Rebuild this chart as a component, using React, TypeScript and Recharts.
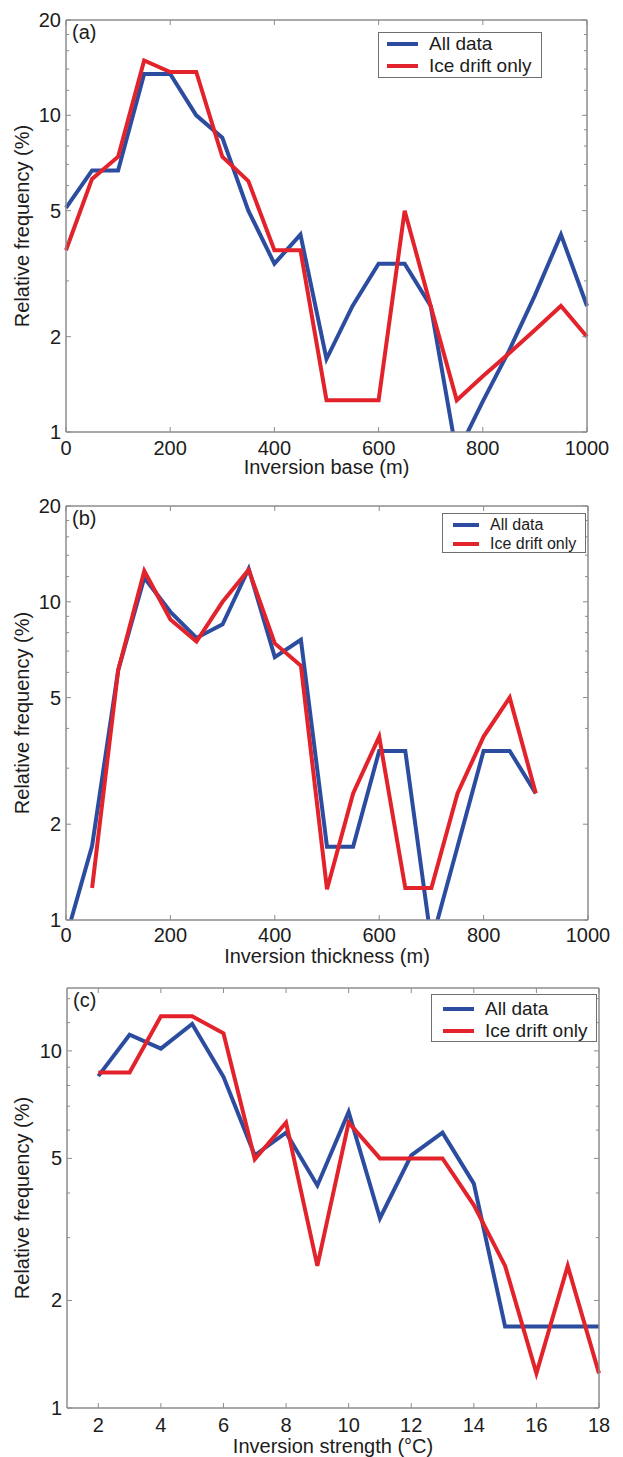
import { LineChart, Line, XAxis, YAxis, Legend } from "recharts";

// panel (a): inversion base
const baseX = [0, 50, 100, 150, 200, 250, 300, 350, 400, 450, 500, 550, 600, 650, 700, 750, 800, 850, 900, 950, 1000];
const baseAll = [5.1, 6.7, 6.7, 13.5, 13.5, 10, 8.5, 5.0, 3.4, 4.2, 1.7, 2.5, 3.4, 3.4, 2.5, 0.85, 1.25, 1.8, 2.7, 4.2, 2.5];
const baseIce = [3.75, 6.3, 7.4, 14.9, 13.7, 13.7, 7.4, 6.2, 3.75, 3.75, 1.26, 1.26, 1.26, 5.0, 2.5, 1.26, 1.5, 1.77, 2.1, 2.5, 2.0];

// panel (b): inversion thickness
const thickX = [0, 50, 100, 150, 200, 250, 300, 350, 400, 450, 500, 550, 600, 650, 700, 750, 800, 850, 900];
const thickAll = [0.88, 1.71, 6.1, 11.9, 9.3, 7.7, 8.5, 12.7, 6.7, 7.6, 1.7, 1.7, 3.4, 3.4, 0.85, 1.7, 3.4, 3.4, 2.5];
const thickIce = [null, 1.26, 6.1, 12.5, 8.8, 7.5, 10, 12.6, 7.4, 6.3, 1.25, 2.5, 3.77, 1.26, 1.26, 2.5, 3.77, 5.0, 2.5];

// panel (c): inversion strength
const strengthX = [2, 3, 4, 5, 6, 7, 8, 9, 10, 11, 12, 13, 14, 15, 16, 17, 18];
const strengthAll = [8.5, 11.1, 10.15, 11.9, 8.46, 5.1, 5.9, 4.2, 6.75, 3.4, 5.1, 5.9, 4.25, 1.69, 1.69, 1.69, 1.69];
const strengthIce = [8.7, 8.7, 12.5, 12.5, 11.2, 4.97, 6.3, 2.5, 6.3, 5.0, 5.0, 5.0, 3.7, 2.5, 1.25, 2.5, 1.25];

const seriesNames = ["All data", "Ice drift only"];
const seriesColors = ["#2c4d9f", "#e3232b"];

const mTicks = [0, 200, 400, 600, 800, 1000];
const cTicks = [2, 4, 6, 8, 10, 12, 14, 16, 18];
const yTicksAB = [1, 2, 3, 4, 5, 6, 7, 8, 9, 10, 12, 14, 16, 18, 20];
const yTicksC = [1, 2, 3, 4, 5, 6, 7, 8, 9, 10, 12, 14];
const yLabelsAB = [1, 2, 5, 10, 20];
const yLabelsC = [1, 2, 5, 10];

const gray = "#8c8c8c";
const ink = "#1c1c1c";
const fs = 20;

function rows(xs: number[], all: (number | null)[], ice: (number | null)[]) {
  return xs.map((x, i) => ({ x, all: all[i], ice: ice[i] }));
}

function LegendBox({ w, h, fontSize, lineLeft, lineW, textLeft, rowY }: any) {
  return (
    <div style={{ position: "relative", width: w, height: h, border: "1px solid #6f6f6f", background: "#fff", boxSizing: "border-box" }}>
      {seriesNames.map((n, i) => (
        <div key={n}>
          <div style={{ position: "absolute", left: lineLeft, top: rowY[i] - 2, width: lineW, height: 4, background: seriesColors[i] }} />
          <div style={{ position: "absolute", left: textLeft, top: rowY[i] - fontSize * 0.6, fontSize, lineHeight: `${fontSize * 1.2}px`, color: ink, whiteSpace: "nowrap" }}>{n}</div>
        </div>
      ))}
    </div>
  );
}

function Panel(p: any) {
  const plotW = p.width - p.left - p.right;
  const plotH = p.height - p.top - p.bottom;

  const xTick = (props: any) => {
    const { x, y, payload } = props;
    return (
      <g>
        <line x1={x} y1={y} x2={x} y2={y - 5} stroke={gray} />
        <line x1={x} y1={y - plotH} x2={x} y2={y - plotH + 5} stroke={gray} />
        <text x={x} y={y + p.tickDy} textAnchor="middle" dominantBaseline="central" fontSize={fs} fill={ink}>{payload.value}</text>
      </g>
    );
  };

  const yTick = (props: any) => {
    const { x, y, payload } = props;
    const major = p.yLabels.includes(payload.value);
    const len = major ? 5 : 3;
    return (
      <g>
        <line x1={x} y1={y} x2={x + len} y2={y} stroke={gray} />
        <line x1={x + plotW} y1={y} x2={x + plotW - len} y2={y} stroke={gray} />
        {major && (
          <text x={x - 5} y={y} textAnchor="end" dominantBaseline="central" fontSize={fs} fill={ink}>{payload.value}</text>
        )}
      </g>
    );
  };

  return (
    <div style={{ position: "absolute", left: 0, top: p.y }}>
      <LineChart width={p.width} height={p.height} data={p.data}
        margin={{ top: p.top - 1, right: p.right - 1, bottom: p.bottom - 1, left: 0 }}>
        <XAxis dataKey="x" type="number" domain={p.xDomain} ticks={p.xTicks} interval={0}
          height={1} tickSize={0} tickMargin={0} tickLine={false} tick={xTick}
          axisLine={{ stroke: gray, strokeWidth: 1.5 }}
          label={{ value: p.xTitle, position: "bottom", offset: p.xTitleOffset - 1, fontSize: fs, fill: ink }} />
        <XAxis xAxisId="top" dataKey="x" orientation="top" type="number" domain={p.xDomain} height={1}
          tick={false} tickLine={false} axisLine={{ stroke: gray, strokeWidth: 1.5 }}
          label={{ value: p.letter, position: "insideTopLeft", offset: 6, fontSize: fs, fill: ink }} />
        <YAxis type="number" scale="log" domain={p.yDomain} ticks={p.yTicks} interval={0}
          allowDataOverflow width={p.left} tickSize={0} tickMargin={0} tickLine={false} tick={yTick}
          axisLine={{ stroke: gray, strokeWidth: 1.5 }}
          label={{ value: "Relative frequency (%)", angle: -90, position: "insideLeft", offset: 22, fontSize: fs, fill: ink, style: { textAnchor: "middle" } }} />
        <YAxis yAxisId="right" orientation="right" type="number" scale="log" domain={p.yDomain}
          allowDataOverflow width={1} tick={false} tickLine={false} axisLine={{ stroke: gray, strokeWidth: 1.5 }} />
        <Legend layout="horizontal" verticalAlign="middle" align="center"
          wrapperStyle={{ left: p.legend.x, top: p.legend.y, width: p.legend.w, height: p.legend.h }}
          content={() => <LegendBox {...p.legend} />} />
        <Line dataKey="all" name={seriesNames[0]} type="linear" stroke={seriesColors[0]} strokeWidth={4} dot={false} isAnimationActive={false} />
        <Line dataKey="ice" name={seriesNames[1]} type="linear" stroke={seriesColors[1]} strokeWidth={4} dot={false} isAnimationActive={false} />
      </LineChart>
    </div>
  );
}

export default function App() {
  return (
    <div style={{ position: "absolute", left: 0, top: 0, width: 623, height: 1457, background: "#fff", fontFamily: '"Liberation Sans", Arial, Helvetica, sans-serif', overflow: "hidden" }}>
      <Panel y={0} width={623} height={480} top={20} bottom={48} left={66} right={36}
        data={rows(baseX, baseAll, baseIce)} xDomain={[0, 1000]} xTicks={mTicks}
        yDomain={[1, 20]} yTicks={yTicksAB} yLabels={yLabelsAB} tickDy={16}
        xTitle="Inversion base (m)" xTitleOffset={28} letter="(a)"
        legend={{ x: 378, y: 32, w: 164, h: 46, fontSize: 19, lineLeft: 8, lineW: 31, textLeft: 50, rowY: [11, 33] }} />
      <Panel y={480} width={623} height={500} top={26} bottom={60} left={66} right={35}
        data={rows(thickX, thickAll, thickIce)} xDomain={[0, 1000]} xTicks={mTicks}
        yDomain={[1, 20]} yTicks={yTicksAB} yLabels={yLabelsAB} tickDy={15}
        xTitle="Inversion thickness (m)" xTitleOffset={29} letter="(b)"
        legend={{ x: 442, y: 33, w: 144, h: 40, fontSize: 16, lineLeft: 10, lineW: 26, textLeft: 47, rowY: [11, 30] }} />
      <Panel y={960} width={623} height={497} top={28} bottom={49} left={67} right={24}
        data={rows(strengthX, strengthAll, strengthIce)} xDomain={[1, 18]} xTicks={cTicks}
        yDomain={[1, 15]} yTicks={yTicksC} yLabels={yLabelsC} tickDy={17}
        xTitle="Inversion strength (°C)" xTitleOffset={31} letter="(c)"
        legend={{ x: 431, y: 34, w: 166, h: 48, fontSize: 19, lineLeft: 11, lineW: 31, textLeft: 53, rowY: [14, 36] }} />
    </div>
  );
}
